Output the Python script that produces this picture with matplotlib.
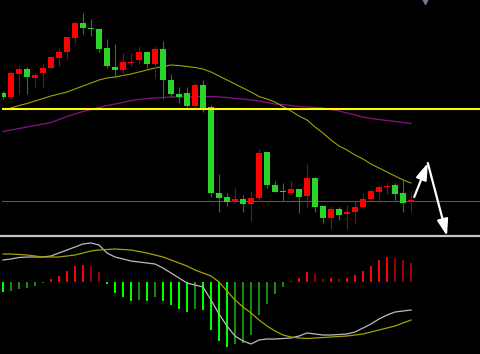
"""Candlestick chart with two moving averages and a MACD panel, dark theme."""

import matplotlib

matplotlib.use("Agg")
import matplotlib.pyplot as plt
from matplotlib.lines import Line2D
import numpy as np

# price candles (red = up, green = down)
opens = [40.7, 40.3, 42.6, 43.1, 42.2, 42.7, 43.2, 44.2, 44.8, 46.2,
         47.7, 47.2, 47.1, 45.2, 43.3, 43.0, 43.7, 44.0, 44.8, 43.6,
         45.1, 42.0, 40.6, 40.7, 39.4, 41.5, 39.3, 30.7, 30.3, 29.8,
         30.1, 29.6, 30.2, 34.8, 31.5, 30.95, 30.7, 31.1, 30.4, 32.2,
         29.4, 28.2, 29.1, 28.6, 28.8, 29.3, 30.1, 30.8, 31.35, 31.5,
         30.7, 29.95]
highs = [40.9, 42.9, 43.5, 43.3, 42.7, 43.6, 44.4, 45.1, 46.3, 47.9,
         48.7, 48.1, 47.2, 46.1, 45.6, 44.7, 44.7, 45.4, 44.9, 45.4,
         45.9, 42.6, 41.3, 41.3, 41.7, 42.0, 39.5, 32.6, 30.7, 31.2,
         30.5, 30.9, 35.1, 34.8, 31.9, 31.7, 31.9, 31.1, 33.6, 32.3,
         29.4, 29.4, 29.3, 29.5, 29.9, 30.7, 31.1, 31.5, 31.8, 31.7,
         32.2, 30.8]
lows = [40.1, 40.1, 40.6, 40.6, 41.3, 41.2, 43.1, 43.4, 44.1, 45.7,
        46.6, 46.4, 44.8, 43.2, 42.2, 42.5, 43.4, 43.6, 43.2, 42.2,
        40.1, 40.3, 39.7, 39.3, 39.3, 38.8, 30.3, 28.8, 29.4, 29.7,
        28.8, 27.9, 29.9, 31.2, 30.8, 29.9, 30.5, 28.7, 29.2, 28.8,
        27.7, 27.1, 28.0, 27.1, 27.6, 29.1, 30.1, 29.7, 30.6, 30.0,
        28.8, 28.8]
closes = [40.3, 42.7, 43.1, 42.3, 42.5, 43.2, 44.3, 44.8, 46.3, 47.7,
          47.2, 47.1, 45.1, 43.4, 43.0, 43.8, 43.8, 44.8, 43.6, 45.1,
          42.0, 40.6, 40.3, 39.4, 41.5, 39.2, 30.7, 30.2, 29.8, 30.1,
          29.6, 30.2, 34.7, 31.5, 30.8, 30.85, 31.1, 30.3, 32.2, 29.3,
          28.2, 29.1, 28.5, 28.8, 29.3, 30.1, 30.9, 31.3, 31.45, 30.6,
          29.7, 30.05]

# moving averages
ma_short = [np.nan, 39.2, 39.45, 39.65, 39.9, 40.15, 40.4, 40.6, 40.8, 41.1,
            41.4, 41.7, 42.0, 42.2, 42.3, 42.45, 42.6, 42.8, 43.0, 43.2,
            43.35, 43.5, 43.45, 43.35, 43.25, 43.1, 42.8, 42.4, 42.0, 41.6,
            41.2, 40.8, 40.35, 40.1, 39.8, 39.35, 38.9, 38.4, 38.0, 37.3,
            36.7, 36.0, 35.4, 35.0, 34.5, 34.1, 33.6, 33.2, 32.8, 32.4,
            32.0, 31.7]
ma_long = [36.85, 37.0, 37.15, 37.3, 37.45, 37.6, 37.75, 38.05, 38.35, 38.6,
           38.85, 39.05, 39.25, 39.45, 39.6, 39.75, 39.95, 40.05, 40.15, 40.2,
           40.25, 40.3, 40.3, 40.3, 40.35, 40.35, 40.35, 40.3, 40.25, 40.15,
           40.1, 40.0, 39.9, 39.75, 39.6, 39.55, 39.45, 39.35, 39.3, 39.25,
           39.2, 39.05, 38.9, 38.7, 38.5, 38.3, 38.15, 38.05, 37.95, 37.85,
           37.75, 37.65]

resistance_level = 39.15
support_level = 29.95

# MACD panel
macd_hist = [-0.10, -0.09, -0.07, -0.06, -0.04, -0.01, 0.03, 0.06, 0.11, 0.16,
             0.17, 0.16, 0.10, -0.015, -0.11, -0.15, -0.19, -0.18, -0.19, -0.15,
             -0.19, -0.23, -0.27, -0.30, -0.27, -0.28, -0.48, -0.59, -0.65, -0.62,
             -0.61, -0.53, -0.33, -0.22, -0.12, -0.05, 0.01, 0.04, 0.10, 0.08,
             0.035, 0.038, 0.032, 0.04, 0.07, 0.11, 0.16, 0.22, 0.25, 0.245,
             0.22, 0.19]
macd_dif = [0.22, 0.23, 0.245, 0.25, 0.25, 0.25, 0.26, 0.29, 0.32, 0.35,
            0.38, 0.39, 0.37, 0.29, 0.25, 0.23, 0.21, 0.20, 0.19, 0.18,
            0.14, 0.09, 0.04, -0.01, -0.03, -0.05, -0.18, -0.32, -0.44, -0.54,
            -0.59, -0.62, -0.58, -0.57, -0.57, -0.565, -0.56, -0.54, -0.51, -0.52,
            -0.53, -0.53, -0.525, -0.52, -0.50, -0.46, -0.42, -0.37, -0.33, -0.30,
            -0.29, -0.28]
macd_dea = [0.28, 0.28, 0.275, 0.27, 0.26, 0.25, 0.25, 0.25, 0.26, 0.27,
            0.29, 0.31, 0.32, 0.325, 0.33, 0.325, 0.32, 0.305, 0.29, 0.27,
            0.25, 0.22, 0.19, 0.16, 0.12, 0.09, 0.06, 0.0, -0.09, -0.18,
            -0.25, -0.31, -0.38, -0.44, -0.49, -0.53, -0.55, -0.56, -0.565, -0.56,
            -0.555, -0.55, -0.545, -0.54, -0.53, -0.52, -0.50, -0.48, -0.46, -0.44,
            -0.41, -0.38]

# forecast arrows (x in bars, y in price)
arrow_up = ((51.4, 30.3), (53.1, 33.7))
arrow_down = ((53.1, 33.7), (55.5, 26.4))

x = np.arange(len(opens))
o = np.array(opens)
c = np.array(closes)
up = c >= o

fig = plt.figure(figsize=(4.8, 3.54), dpi=100, facecolor="black")
ax1 = fig.add_axes([2 / 480, 119 / 354, 478 / 480, 235 / 354])
ax2 = fig.add_axes([2 / 480, 0, 478 / 480, 117 / 354])
for ax in (ax1, ax2):
    ax.set_facecolor("black")
    ax.axis("off")
    ax.set_xlim(-0.125, 59.625)

ax1.set_ylim(26.5, 50)
ax2.set_ylim(-0.72, 0.45)

# price panel
ax1.axhline(support_level, color="#4f5767", lw=0.8, zorder=1)
ax1.axhline(resistance_level, color="#ffff00", lw=1.5, zorder=4)
ax1.plot(x, ma_long, color="#8a108a", lw=0.9, zorder=2)
ax1.plot(x, ma_short, color="#a3a300", lw=0.8, zorder=2)

wick_colors = np.where(up, "#a00000", "#118a11")
body_colors = np.where(up, "#ff0000", "#2bd42b")
ax1.vlines(x, lows, highs, colors=wick_colors, lw=0.8, zorder=3)
heights = np.maximum(np.abs(c - o), 0.1)
ax1.bar(x, heights, bottom=np.minimum(o, c), width=0.72,
        color=body_colors, zorder=3)

for tail, head in (arrow_up, arrow_down):
    ax1.annotate("", xy=head, xytext=tail, annotation_clip=False,
                 arrowprops=dict(arrowstyle="-|>,head_width=0.3,head_length=0.9",
                                 color="white", lw=1.6,
                                 mutation_scale=11, shrinkA=0, shrinkB=0,
                                 clip_on=False),
                 zorder=6)

# small marker at the top edge, half cut off
ax1.plot(52.8, 50.0, marker="v", color="#6b7a99", ms=6)

# MACD panel
h = np.array(macd_hist)
prev = np.concatenate([[0.0], h[:-1]])
bar_colors = []
for i, v in enumerate(h):
    if v >= 0:
        bar_colors.append("#ff0000" if (i == 0 or v >= prev[i]) else "#9a0000")
    else:
        bar_colors.append("#00ff00" if (i == 0 or v <= prev[i]) else "#138a13")
ax2.bar(x, h, width=0.25, color=bar_colors, zorder=2)
ax2.plot(x, macd_dif, color="#bcbcbc", lw=0.9, zorder=3)
ax2.plot(x, macd_dea, color="#a3a300", lw=0.9, zorder=3)

# panel separator
fig.add_artist(Line2D([0, 1], [1 - 235.5 / 354] * 2, color="#c4c4c4", lw=1.6))

fig.savefig("out.png", dpi=100, facecolor="black")
